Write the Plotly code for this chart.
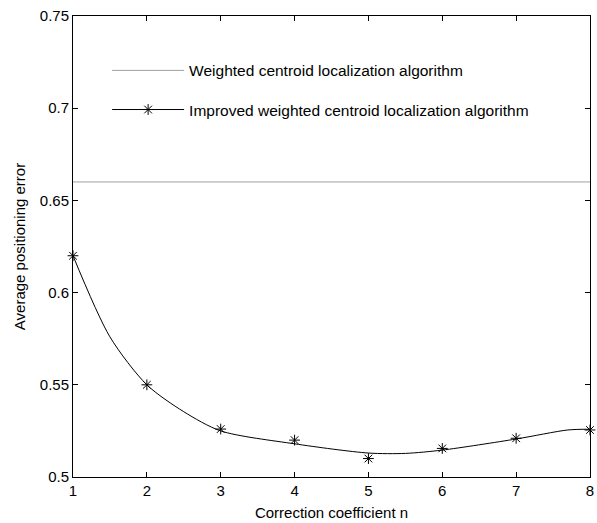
import plotly.graph_objects as go

# Data
n_values = [1, 2, 3, 4, 5, 6, 7, 8]
improved_error = [0.620, 0.550, 0.526, 0.520, 0.510, 0.5155, 0.521, 0.5255]
weighted_error = [0.66, 0.66, 0.66, 0.66, 0.66, 0.66, 0.66, 0.66]

# fitted curve as seen in the reference
curve_n = [1, 1.5, 2, 2.5, 3, 4, 5, 5.5, 6, 7, 7.7, 8]
curve_error = [0.620, 0.576, 0.550, 0.5354, 0.525, 0.518, 0.513, 0.5128, 0.5146, 0.5206, 0.5255, 0.5259]

x_ticks = [1, 2, 3, 4, 5, 6, 7, 8]
y_ticks = [0.5, 0.55, 0.6, 0.65, 0.7, 0.75]
y_tick_text = ["0.5", "0.55", "0.6", "0.65", "0.7", "0.75"]

FONT = "Liberation Sans, Arial, sans-serif"

fig = go.Figure()

fig.add_trace(go.Scatter(
    x=n_values, y=weighted_error, mode="lines",
    line=dict(color="#a0a0a0", width=1),
    name="Weighted centroid localization algorithm",
    legendgroup="a",
))

fig.add_trace(go.Scatter(
    x=curve_n, y=curve_error, mode="lines",
    line=dict(color="black", width=1, shape="spline", smoothing=0.8),
    showlegend=False, hoverinfo="skip",
))

fig.add_trace(go.Scatter(
    x=n_values, y=improved_error, mode="markers",
    marker=dict(symbol="asterisk-open", size=9, color="black",
                line=dict(color="black", width=1)),
    showlegend=False, cliponaxis=False,
))

fig.add_trace(go.Scatter(
    x=[None], y=[None], mode="lines+markers",
    line=dict(color="black", width=1),
    marker=dict(symbol="asterisk-open", size=9, color="black",
                line=dict(color="black", width=1)),
    name="Improved weighted centroid localization algorithm",
    legendgroup="b",
))

axis_common = dict(
    showline=True, linecolor="black", linewidth=1, mirror="ticks",
    ticks="inside", ticklen=5, tickcolor="black", tickwidth=1,
    showgrid=False, zeroline=False, ticklabeloverflow="allow",
    tickfont=dict(family=FONT, size=15, color="black"),
)

fig.update_layout(
    width=597, height=523,
    margin=dict(l=73, r=3, t=16, b=46),
    paper_bgcolor="white", plot_bgcolor="white",
    font=dict(family=FONT, size=15, color="black"),
    xaxis=dict(range=[1, 8], tickvals=x_ticks,
               title=dict(text="Correction coefficient n", font=dict(family=FONT, size=15), standoff=9),
               **axis_common),
    yaxis=dict(range=[0.5, 0.75], tickvals=y_ticks, ticktext=y_tick_text,
               title=dict(text="Average positioning error", font=dict(family=FONT, size=15), standoff=10),
               **axis_common),
    legend=dict(x=0.066, y=0.918, xanchor="left", yanchor="top",
                bgcolor="rgba(0,0,0,0)", borderwidth=0,
                traceorder="grouped", tracegroupgap=16, itemwidth=72,
                font=dict(family=FONT, size=15.5, color="black")),
    showlegend=True,
)

fig.write_html("out.html", post_script="document.body.style.margin='0';",
               config={"displayModeBar": False})
